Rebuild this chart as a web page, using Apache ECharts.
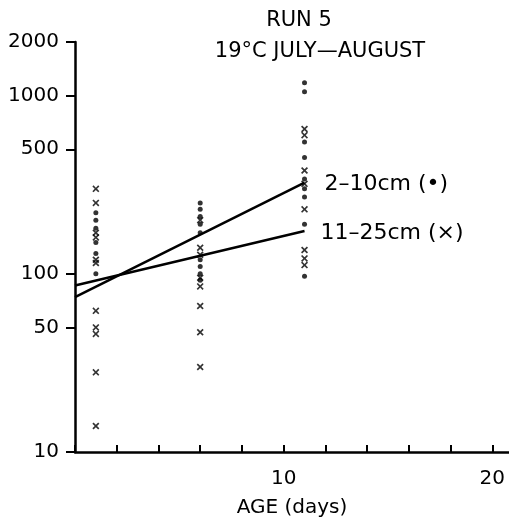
<!DOCTYPE html>
<html>
<head>
<meta charset="utf-8">
<script src="https://cdn.jsdelivr.net/npm/echarts@6/dist/echarts.min.js"></script>
<style>
  html, body { margin: 0; padding: 0; background: #fff; }
  #chart { width: 509px; height: 526px; }
</style>
</head>
<body>
<div id="chart"></div>
<script>
// Sampling ages (days)
const ages = [1, 6, 11];

// Weights of the 2-10 cm group at each age
const small1 = [220, 200, 180, 150, 130, 100];
const small6 = [250, 230, 210, 190, 170, 120, 110, 100, 92];
const small11 = [1180, 1050, 550, 450, 340, 300, 270, 190, 97];

// Weights of the 11-25 cm group at each age
const large1 = [300, 250, 170, 160, 120, 115, 62, 50, 46, 28, 14];
const large6 = [200, 140, 128, 95, 85, 66, 47, 30];
const large11 = [650, 600, 380, 320, 230, 136, 122, 112];

// Fitted regression lines: value at age 0 and age 11
const fitAges = [0, 11];
const fitSmall = [74, 325];
const fitLarge = [86, 174];

// Axis ticks and labels
const yTicks = [10, 50, 100, 500, 1000, 2000];
const xTicks = [0, 2, 4, 6, 8, 10, 12, 14, 16, 18, 20];
const xLabels = [10, 20];

const FONT = 'DejaVu Sans';

function pairs(age, vals) { return vals.map(v => [age, v]); }
const smallPts = [].concat(pairs(ages[0], small1), pairs(ages[1], small6), pairs(ages[2], small11));
const largePts = [].concat(pairs(ages[0], large1), pairs(ages[1], large6), pairs(ages[2], large11));

// Bold "x" marker
const crossPath = 'path://M0,1L1,0L3,2L5,0L6,1L4,3L6,5L5,6L3,4L1,6L0,5L2,3Z';

const titleStyle = { fontFamily: FONT, fontWeight: 'normal', fontSize: 21, color: '#000' };

const chart = echarts.init(document.getElementById('chart'), null, { renderer: 'canvas' });
chart.setOption({
  backgroundColor: '#fff',
  animation: false,
  title: [
    { text: 'RUN 5', left: 294, top: 5, textAlign: 'center', textStyle: titleStyle },
    { text: '19°C JULY—AUGUST', left: 315, top: 36, textAlign: 'center', textStyle: titleStyle }
  ],
  grid: { left: 75, right: 0, top: 42, bottom: 74 },
  xAxis: {
    type: 'value', min: 0, max: 20.8,
    name: 'AGE (days)', nameLocation: 'middle', nameGap: 46,
    nameTextStyle: { fontFamily: FONT, fontSize: 20, color: '#000' },
    axisLine: { lineStyle: { color: '#000', width: 2.5 } },
    axisTick: { show: true, inside: true, length: 7, customValues: xTicks, lineStyle: { color: '#000', width: 2 } },
    axisLabel: { customValues: xLabels, margin: 17, fontFamily: FONT, fontSize: 20, color: '#000' },
    splitLine: { show: false }
  },
  yAxis: {
    type: 'log', logBase: 10, min: 10, max: 2000,
    axisLine: { show: true, lineStyle: { color: '#000', width: 2.5 } },
    axisTick: { show: true, inside: false, length: 9, customValues: yTicks, lineStyle: { color: '#000', width: 2 } },
    axisLabel: {
      customValues: yTicks, margin: 16, fontFamily: FONT, fontSize: 20, color: '#000',
      formatter: v => String(Math.round(v))
    },
    splitLine: { show: false }
  },
  series: [
    {
      type: 'scatter', name: '2-10cm', data: smallPts,
      symbol: 'circle', symbolSize: 5, itemStyle: { color: '#000' }
    },
    {
      type: 'scatter', name: '11-25cm', data: largePts,
      symbol: crossPath, symbolSize: 7, itemStyle: { color: '#000' }
    },
    {
      type: 'line', data: fitAges.map((a, i) => [a, fitSmall[i]]),
      symbol: 'none', lineStyle: { color: '#000', width: 2.5 },
      endLabel: { show: true, formatter: '2–10cm (•)', distance: 20, fontFamily: FONT, fontSize: 22, color: '#000', offset: [0, 2] }
    },
    {
      type: 'line', data: fitAges.map((a, i) => [a, fitLarge[i]]),
      symbol: 'none', lineStyle: { color: '#000', width: 2.5 },
      endLabel: { show: true, formatter: '11–25cm (×)', distance: 16, fontFamily: FONT, fontSize: 22, color: '#000', offset: [0, 2] }
    }
  ]
});
</script>
</body>
</html>
